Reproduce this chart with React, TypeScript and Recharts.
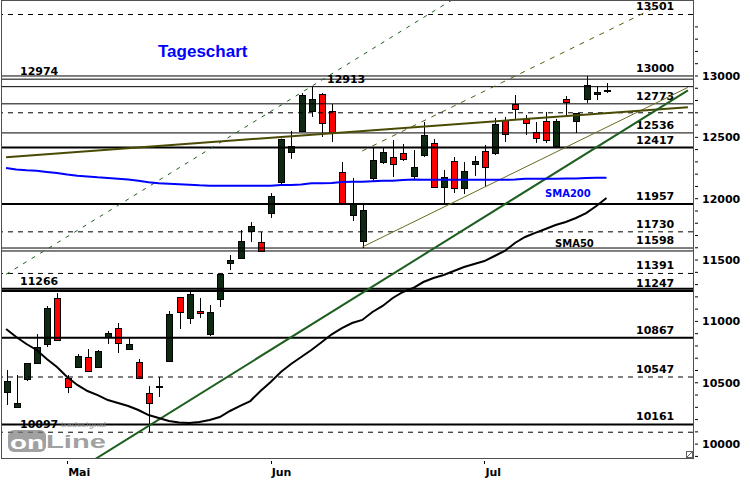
import {
  ComposedChart, Bar, Line, XAxis, YAxis, ReferenceLine,
} from 'recharts'

const opens = [10425, 10302, 10530, 10661, 10816, 11191, 10539, 10628, 10710, 10628,
  10873, 10946, 10775, 10669, 10416, 10465, 10677, 11199, 11028, 11085,
  10897, 11183, 11476, 11517, 11737, 11647, 11883, 12136, 12381, 12552,
  12715, 12853, 12715, 12218, 11867, 11655, 12169, 12299, 12340, 12372,
  12185, 12356, 12454, 12095, 12307, 12087, 12283, 12389, 12372, 12641,
  12772, 12650, 12544, 12633, 12430, 12813, 12633, 12813, 12853, 12878]
const highs = [10604, 10563, 10661, 10897, 11125, 11231, 10563, 10734, 10775, 10767,
  10922, 10987, 10873, 10694, 10473, 10547, 11085, 11199, 11240, 11191,
  11134, 11386, 11541, 11745, 11810, 11729, 12046, 12490, 12552, 12861,
  12913, 12861, 12772, 12299, 12169, 11949, 12421, 12421, 12478, 12446,
  12397, 12625, 12487, 12234, 12340, 12299, 12348, 12438, 12658, 12666,
  12845, 12682, 12625, 12707, 12650, 12837, 12698, 13000, 12918, 12943]
const lows = [10319, 10300, 10514, 10653, 10791, 10840, 10416, 10620, 10588, 10620,
  10816, 10742, 10770, 10530, 10097, 10384, 10669, 10938, 10979, 11028,
  10881, 11117, 11419, 11509, 11647, 11574, 11843, 12112, 12324, 12545,
  12666, 12503, 12462, 11965, 11818, 11598, 12136, 12283, 12177, 12307,
  12160, 12340, 12095, 11965, 12046, 12038, 12185, 12095, 12356, 12462,
  12650, 12519, 12454, 12454, 12421, 12682, 12535, 12780, 12804, 12861]
const closes = [10514, 10335, 10661, 10791, 11109, 10848, 10465, 10718, 10596, 10759,
  10905, 10824, 10816, 10539, 10335, 10473, 11060, 11077, 11223, 11069,
  11077, 11386, 11500, 11655, 11778, 11576, 12022, 12487, 12430, 12845,
  12813, 12617, 12535, 11965, 11957, 11908, 12315, 12381, 12283, 12324,
  12258, 12519, 12095, 12177, 12087, 12226, 12307, 12258, 12609, 12527,
  12731, 12617, 12495, 12478, 12633, 12788, 12698, 12927, 12870, 12886]
const sma50 = [10938, 10873, 10816, 10767, 10694, 10628, 10547, 10482, 10433, 10400,
  10359, 10335, 10311, 10278, 10237, 10213, 10188, 10176, 10172, 10180,
  10196, 10221, 10270, 10311, 10351, 10433, 10506, 10588, 10653, 10710,
  10767, 10830, 10895, 10946, 10987, 11012, 11077, 11126, 11191, 11240,
  11272, 11321, 11354, 11378, 11411, 11443, 11468, 11492, 11533, 11574,
  11639, 11688, 11721, 11753, 11786, 11810, 11843, 11883, 11940, 12006]
const sma200 = [12250, 12238, 12231, 12228, 12218, 12209, 12197, 12187, 12181, 12174,
  12169, 12163, 12156, 12147, 12134, 12126, 12122, 12118, 12114, 12109,
  12106, 12106, 12106, 12106, 12106, 12106, 12106, 12112, 12112, 12116,
  12126, 12126, 12128, 12136, 12139, 12139, 12143, 12147, 12147, 12152,
  12156, 12154, 12154, 12154, 12154, 12154, 12154, 12154, 12154, 12154,
  12156, 12163, 12163, 12163, 12163, 12165, 12165, 12169, 12171, 12171]

// 60 sessions plus 8 empty slots to the right
const SLOTS = 68
const monthTicks = [6, 26, 47]
const monthLabels = ['Mai', 'Jun', 'Jul']

const priceTicks = [9900, 10000, 10100, 10200, 10300, 10400, 10500, 10600, 10700, 10800,
  10900, 11000, 11100, 11200, 11300, 11400, 11500, 11600, 11700, 11800, 11900, 12000,
  12100, 12200, 12300, 12400, 12500, 12600, 12700, 12800, 12900, 13000, 13100, 13200,
  13300, 13400]

const levels = [13501, 13000, 12974, 12913, 12773, 12700, 12536, 12417, 11957, 11730,
  11598, 11574, 11391, 11266, 11247, 10867, 10547, 10161, 10097]
const thickLevels = [12417, 11957, 11266, 11247, 10867, 10161]
const dashedLevels = [13501, 12700, 11730, 11391, 10547, 10097]
const leftLabelled = [12974, 11266, 10097]
const hiddenLabels = [12700, 11574]

// trend lines: [slot, price] pairs
const trendMain = [[8, 9839], [67, 12883]]
const trendChannel = [[0, 11384], [44, 13629]]
const trendFlat = [[0, 12338], [67, 12746]]
const trendThin = [[35, 11606], [67, 12907]]
const trendThinUpper = [[35, 12389], [66, 13648]]

const data = Array.from({ length: SLOTS }, (_, i) => i < opens.length ? {
  i, open: opens[i], high: highs[i], low: lows[i], close: closes[i],
  range: [lows[i], highs[i]], sma50: sma50[i], sma200: sma200[i],
} : { i })

const FONT = '"DejaVu Sans", Verdana, sans-serif'
const ARIAL = "'Liberation Sans', Arial, sans-serif"

function Candle(props: any) {
  const { x, y, width, height, payload } = props
  if (!payload || payload.open == null) return null
  const { open, close, high, low } = payload
  const cx = Math.round(x + width / 2) + 0.5
  const span = high - low || 1
  const py = (v: number) => y + ((high - v) / span) * height
  const top = Math.round(py(Math.max(open, close))) + 0.5
  const bot = Math.round(py(Math.min(open, close))) + 0.5
  const up = close >= open
  return (
    <g>
      <line x1={cx} x2={cx} y1={y} y2={y + height} stroke="#000" strokeWidth={1} />
      <rect x={cx - 3} y={top} width={6} height={Math.max(bot - top, 1)}
        fill={up ? '#0f2a12' : '#ff0000'} stroke="#000" strokeWidth={1} />
    </g>
  )
}

function LevelLabel(props: any) {
  const vb = props.viewBox || {}
  const left = vb.x ?? 1
  const w = vb.width ?? 692
  const y = vb.y ?? 0
  let x = left + 19
  if (props.side === 'right') x = left + w - 57
  if (props.side === 'mid') x = left + 326
  return (
    <text x={x} y={y - 4} fontFamily={FONT} fontWeight="bold" fontSize={11} fill="#000">
      {props.text}
    </text>
  )
}

function PriceTick(props: any) {
  const { x, y, payload } = props
  const v = payload.value
  const labelled = v % 500 === 0 && v <= 13000
  return (
    <g>
      <line x1={x + 2} x2={x + 5} y1={y} y2={y} stroke="#000" strokeWidth={1} />
      {labelled && (
        <text x={x + 9} y={y + 4} fontFamily={FONT} fontWeight="bold" fontSize={11} fill="#000">{v}</text>
      )}
    </g>
  )
}

function MonthTick(props: any) {
  const { x, y, payload } = props
  const label = monthLabels[monthTicks.indexOf(payload.value)]
  const lx = Math.round(x) + 0.5
  return (
    <g>
      <line x1={lx} x2={lx} y1={y + 3} y2={y + 6} stroke="#000" strokeWidth={1} />
      <text x={x + 1} y={y + 18} fontFamily={FONT} fontWeight="bold" fontSize={11} fill="#000">{label}</text>
    </g>
  )
}

function seg(t: number[][]) {
  return t.map(([i, v]) => ({ x: i, y: v }))
}

export default function App() {
  return (
    <div style={{ position: 'absolute', left: 0, top: 0, width: 750, height: 480, background: '#fff' }}>
      <ComposedChart width={750} height={480} data={data} margin={{ top: 1, right: 0, bottom: 0, left: 1 }}>
        <XAxis dataKey="i" type="category" ticks={monthTicks} interval={0} height={22}
          axisLine={false} tickLine={false} tickSize={0} tickMargin={0} tick={<MonthTick />} />
        <YAxis orientation="right" type="number" domain={[9887, 13611]} allowDataOverflow
          ticks={priceTicks} interval={0} width={57} axisLine={false} tickLine={false}
          tickSize={0} tickMargin={0} tick={<PriceTick />} />
        {levels.map((lv) => {
          const side = lv === 12913 ? 'mid' : leftLabelled.includes(lv) ? 'left' : 'right'
          return (
            <ReferenceLine key={lv} y={lv} stroke="#000"
              strokeWidth={thickLevels.includes(lv) ? 2 : 1}
              strokeDasharray={dashedLevels.includes(lv) ? '5 5' : undefined}
              label={hiddenLabels.includes(lv) ? undefined : <LevelLabel text={String(lv)} side={side} />} />
          )
        })}
        <ReferenceLine segment={seg(trendChannel)} stroke="#1e5e1e" strokeWidth={1} strokeDasharray="4 6" ifOverflow="hidden" />
        <ReferenceLine segment={seg(trendThinUpper)} stroke="#5a5a10" strokeWidth={1} strokeDasharray="5 6" ifOverflow="hidden" />
        <ReferenceLine segment={seg(trendThin)} stroke="#6b6b20" strokeWidth={1} ifOverflow="hidden" />
        <ReferenceLine segment={seg(trendFlat)} stroke="#4a4a05" strokeWidth={2} ifOverflow="hidden" />
        <ReferenceLine segment={seg(trendMain)} stroke="#1e5e1e" strokeWidth={2} ifOverflow="hidden" />
        <Line dataKey="sma200" stroke="#0000ff" strokeWidth={2} dot={false} activeDot={false} isAnimationActive={false} />
        <Line dataKey="sma50" stroke="#000" strokeWidth={2} dot={false} activeDot={false} isAnimationActive={false} />
        <Bar dataKey="range" barSize={7} shape={<Candle />} isAnimationActive={false} />
      </ComposedChart>
      <svg width={750} height={480} style={{ position: 'absolute', left: 0, top: 0, pointerEvents: 'none' }}>
        <rect x={1.5} y={0.5} width={692} height={458} fill="none" stroke="#505050" strokeWidth={1} />
        <text x={158} y={57} fontFamily={ARIAL} fontWeight="bold" fontSize={17} fill="#0000ff">Tageschart</text>
        <text x={545} y={197} fontFamily={FONT} fontWeight="bold" fontSize={10} fill="#0000ff">SMA200</text>
        <text x={555} y={247} fontFamily={FONT} fontWeight="bold" fontSize={10} fill="#000">SMA50</text>
        <g opacity={0.7}>
          <rect x={8} y={430} width={38} height={22} rx={6} fill="#7a7a7a" />
          <text x={10} y={449} fontFamily={ARIAL} fontWeight="bold" fontSize={19} fill="#fff"
            textLength={34} lengthAdjust="spacingAndGlyphs">on</text>
          <text x={46} y={448} fontFamily={ARIAL} fontWeight="bold" fontSize={18} fill="#7a7a7a"
            textLength={60} lengthAdjust="spacingAndGlyphs">Line</text>
          <text x={61} y={427} fontFamily={ARIAL} fontWeight="bold" fontSize={7} fill="#8a8a8a"
            textLength={45} lengthAdjust="spacingAndGlyphs">tradesignal</text>
        </g>
        <rect x={686.5} y={451.5} width={6} height={6} fill="#fff" stroke="#606060" />
        <line x1={687} y1={457} x2={692} y2={452} stroke="#606060" />
      </svg>
    </div>
  )
}
